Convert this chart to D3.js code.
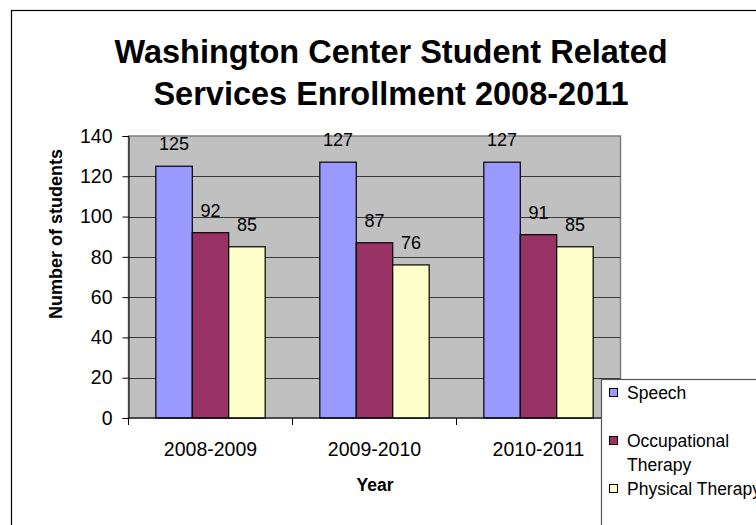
<!DOCTYPE html>
<html>
<head>
<meta charset="utf-8">
<script src="https://cdn.jsdelivr.net/npm/d3@7"></script>
<style>
  html, body { margin: 0; padding: 0; background: #fff; }
  svg { display: block; font-family: Arial, "Liberation Sans", Helvetica, sans-serif; }
</style>
</head>
<body>
<svg id="chart" width="756" height="525"></svg>
<script>
// Enrollment counts per school year and service
const years = ["2008-2009", "2009-2010", "2010-2011"];
const seriesNames = ["Speech", "Occupational Therapy", "Physical Therapy"];
const speech = [125, 127, 127];
const occupational = [92, 87, 91];
const physical = [85, 76, 85];
const yTicks = [0, 20, 40, 60, 80, 100, 120, 140];
const colors = ["#9999FF", "#993366", "#FFFFCC"];

const seriesValues = [speech, occupational, physical];
const rows = years.map((yr, i) => ({
  year: yr,
  values: seriesNames.map((s, j) => ({ series: s, value: seriesValues[j][i], color: colors[j] }))
}));

const svg = d3.select("#chart");

// Outer chart frame (extends past right and bottom edges)
svg.append("rect")
  .attr("x", 11.5).attr("y", 10.5)
  .attr("width", 800).attr("height", 600)
  .attr("fill", "#fff").attr("stroke", "#000").attr("stroke-width", 1.2);

// Title
const title = svg.append("text")
  .attr("text-anchor", "middle")
  .attr("font-weight", "bold")
  .attr("font-size", 32.5)
  .attr("fill", "#000");
title.append("tspan").attr("x", 391).attr("y", 63).text("Washington Center Student Related");
title.append("tspan").attr("x", 391).attr("y", 105).text("Services Enrollment 2008-2011");

const plot = { left: 128.5, right: 620.5, top: 136, bottom: 418 };

const x0 = d3.scaleBand().domain(years).range([plot.left, plot.right]).padding(0);
const x1 = d3.scaleBand().domain(seriesNames).range([0, x0.bandwidth()])
  .paddingInner(0).paddingOuter(0.75);
const y = d3.scaleLinear().domain([0, 140]).range([plot.bottom, plot.top]);

// Plot background
svg.append("rect")
  .attr("x", plot.left).attr("y", plot.top)
  .attr("width", plot.right - plot.left).attr("height", plot.bottom - plot.top)
  .attr("fill", "#C0C0C0").attr("stroke", "#808080").attr("stroke-width", 1.5);

// Gridlines
svg.append("g")
  .selectAll("line")
  .data(yTicks.filter(t => t > 0 && t < 140))
  .join("line")
  .attr("x1", plot.left).attr("x2", plot.right)
  .attr("y1", d => Math.round(y(d)) + 0.5).attr("y2", d => Math.round(y(d)) + 0.5)
  .attr("stroke", "#3a3a3a").attr("stroke-width", 1);

// Bars
const groups = svg.append("g")
  .selectAll("g")
  .data(rows)
  .join("g")
  .attr("transform", d => `translate(${x0(d.year)},0)`);

groups.selectAll("rect")
  .data(d => d.values)
  .join("rect")
  .attr("x", d => x1(d.series))
  .attr("y", d => y(d.value))
  .attr("width", x1.bandwidth())
  .attr("height", d => y(0) - y(d.value))
  .attr("fill", d => d.color)
  .attr("stroke", "#000").attr("stroke-width", 1.2);

// Value labels
groups.selectAll("text")
  .data(d => d.values)
  .join("text")
  .attr("x", d => x1(d.series) + x1.bandwidth() / 2)
  .attr("y", d => y(d.value) - 16)
  .attr("text-anchor", "middle")
  .attr("font-size", 18)
  .attr("fill", "#000")
  .text(d => d.value);

// Y axis
const yAxis = svg.append("g")
  .attr("transform", `translate(${plot.left},0)`)
  .call(d3.axisLeft(y).tickValues(yTicks).tickSize(6).tickPadding(10));
yAxis.select(".domain").attr("stroke", "#000");
yAxis.selectAll(".tick line").attr("stroke", "#000");
yAxis.selectAll("text").attr("font-size", 19.5).attr("font-family", null).attr("fill", "#000");

// X axis: ticks at category boundaries, labels centred under groups
const xAxisG = svg.append("g").attr("transform", `translate(0,${plot.bottom})`);
xAxisG.append("line")
  .attr("x1", plot.left).attr("x2", plot.right)
  .attr("stroke", "#000").attr("stroke-width", 1.2);
const boundaries = years.map(d => x0(d)).concat([plot.right]);
xAxisG.selectAll(".bnd")
  .data(boundaries)
  .join("line")
  .attr("class", "bnd")
  .attr("x1", d => d).attr("x2", d => d)
  .attr("y1", 0).attr("y2", 7)
  .attr("stroke", "#000");
xAxisG.selectAll(".lbl")
  .data(years)
  .join("text")
  .attr("class", "lbl")
  .attr("x", d => x0(d) + x0.bandwidth() / 2)
  .attr("y", 38)
  .attr("text-anchor", "middle")
  .attr("font-size", 19.5)
  .attr("fill", "#000")
  .text(d => d);

// Axis titles
svg.append("text")
  .attr("x", 375).attr("y", 491)
  .attr("text-anchor", "middle")
  .attr("font-weight", "bold").attr("font-size", 17.5)
  .text("Year");

svg.append("text")
  .attr("transform", "translate(62,234) rotate(-90)")
  .attr("text-anchor", "middle")
  .attr("font-weight", "bold").attr("font-size", 18)
  .text("Number of students");

// Legend
const legend = svg.append("g");
legend.append("rect")
  .attr("x", 601.5).attr("y", 379.5)
  .attr("width", 200).attr("height", 200)
  .attr("fill", "#fff").attr("stroke", "#555").attr("stroke-width", 1.2);

const legendRows = [
  { name: seriesNames[0], lines: ["Speech"], y: 393 },
  { name: seriesNames[1], lines: ["Occupational", "Therapy"], y: 441 },
  { name: seriesNames[2], lines: ["Physical Therapy"], y: 489 }
];
const legendItems = legend.selectAll("g.item")
  .data(legendRows)
  .join("g")
  .attr("class", "item");
legendItems.append("rect")
  .attr("x", 609.5).attr("y", d => d.y - 4.5)
  .attr("width", 8).attr("height", 8)
  .attr("fill", (d, i) => colors[i])
  .attr("stroke", "#000").attr("stroke-width", 1);
legendItems.each(function(d) {
  const t = d3.select(this).append("text")
    .attr("font-size", 17.5).attr("fill", "#000");
  d.lines.forEach((ln, k) => {
    t.append("tspan").attr("x", 627).attr("y", d.y + 6 + k * 24).text(ln);
  });
});
</script>
</body>
</html>
